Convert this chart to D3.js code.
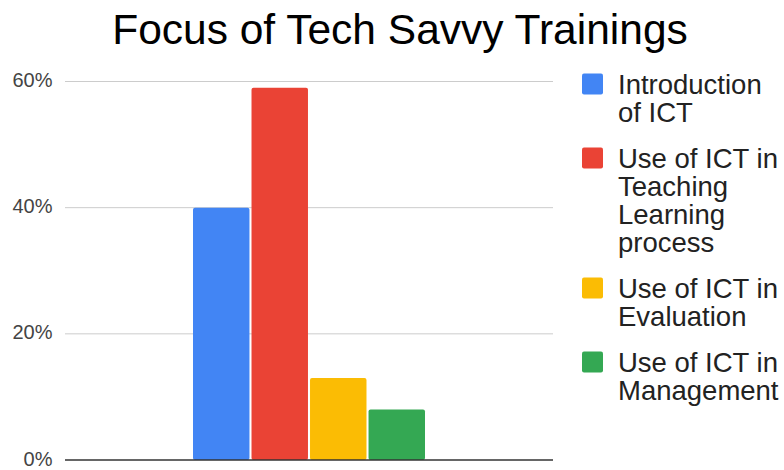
<!DOCTYPE html>
<html>
<head>
<meta charset="utf-8">
<script src="https://cdn.jsdelivr.net/npm/d3@7"></script>
<style>
  html, body { margin: 0; padding: 0; background: #fff; overflow: hidden; }
  svg { display: block; }
</style>
</head>
<body>
<div id="chart"></div>
<script>
const series = ["Introduction of ICT", "Use of ICT in Teaching Learning process", "Use of ICT in Evaluation", "Use of ICT in Management"];
const legendLines = [["Introduction", "of ICT"], ["Use of ICT in", "Teaching", "Learning", "process"], ["Use of ICT in", "Evaluation"], ["Use of ICT in", "Management"]];
const values = [40, 59, 13, 8];
const colors = ["#4285f4", "#ea4335", "#fbbc04", "#34a853"];
const yTicks = [0, 20, 40, 60];

const FONT = "Liberation Sans, Arial, sans-serif";
const width = 784, height = 470;
const svg = d3.select("#chart").append("svg").attr("width", width).attr("height", height);

// title
svg.append("text")
  .attr("x", 400).attr("y", 43.5)
  .attr("text-anchor", "middle")
  .attr("font-family", FONT)
  .attr("font-size", 42.5)
  .attr("fill", "#000")
  .text("Focus of Tech Savvy Trainings");

let y = d3.scaleLinear().domain([0, 60]).range([460, 81.5]);
let x = d3.scaleBand().domain(series).range([193, 425]).paddingInner(0.035);

// gridlines
svg.append("g").selectAll("line").data(yTicks.filter(d => d > 0)).join("line")
  .attr("x1", 65).attr("x2", 553)
  .attr("y1", d => y(d)).attr("y2", d => y(d))
  .attr("stroke", "#cccccc").attr("stroke-width", 1);

// tick labels
svg.append("g").selectAll("text").data(yTicks).join("text")
  .attr("x", 52.5).attr("y", d => y(d) + 5.5)
  .attr("text-anchor", "end")
  .attr("font-family", FONT)
  .attr("font-size", 20)
  .attr("fill", "#444")
  .text(d => d + "%");

// bars
svg.append("g").selectAll("rect").data(values).join("rect")
  .attr("x", (d, i) => x(series[i]))
  .attr("y", d => y(d))
  .attr("width", x.bandwidth())
  .attr("height", d => y(0) - y(d))
  .attr("rx", 2)
  .attr("fill", (d, i) => colors[i]);

// baseline
svg.append("line")
  .attr("x1", 65).attr("x2", 553)
  .attr("y1", y(0)).attr("y2", y(0))
  .attr("stroke", "#333").attr("stroke-width", 1.5);

// legend
let ly = 93.5;
const lineH = 28;
legendLines.forEach(function (lines, i) {
  let g = svg.append("g");
  g.append("rect")
    .attr("x", 582).attr("y", ly - 20)
    .attr("width", 21).attr("height", 21)
    .attr("rx", 2)
    .attr("fill", colors[i]);
  g.append("text")
    .attr("font-family", FONT)
    .attr("font-size", 27.5)
    .attr("fill", "#222")
    .selectAll("tspan").data(lines).join("tspan")
    .attr("x", 618)
    .attr("y", (d, j) => ly + j * lineH)
    .text(d => d);
  ly += lines.length * lineH + 18;
});
</script>
</body>
</html>
